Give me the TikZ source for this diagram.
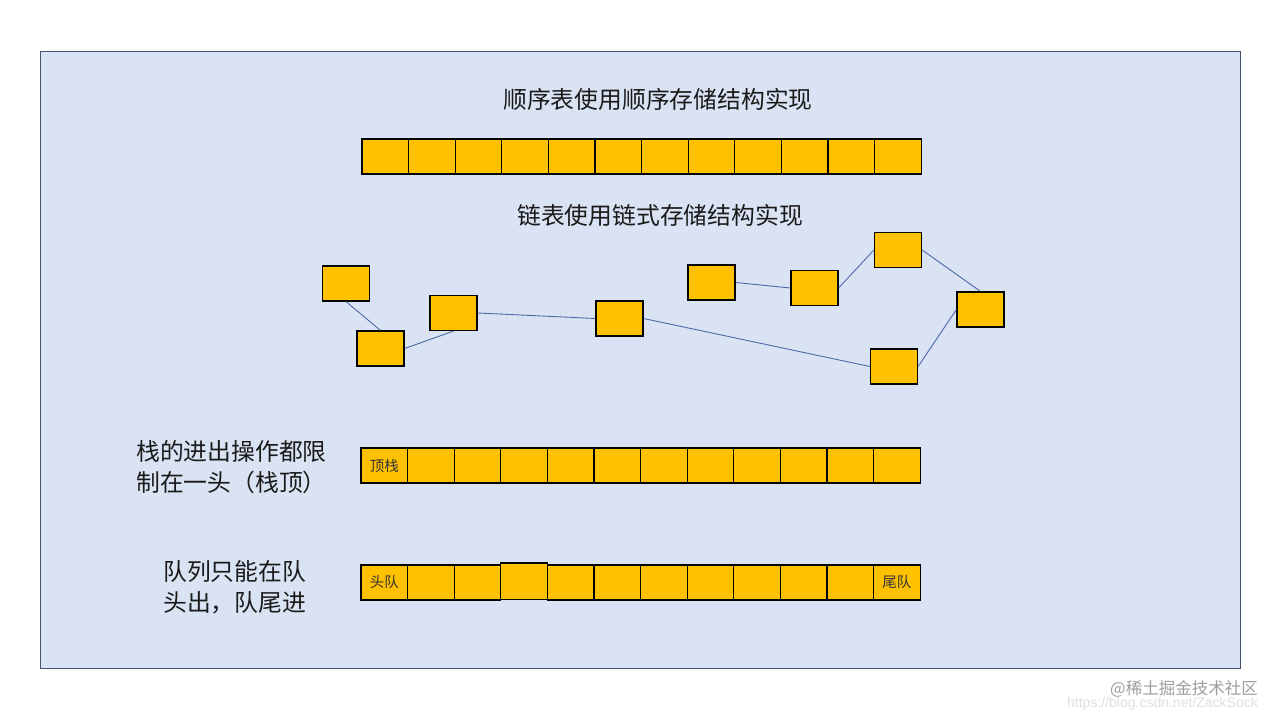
\documentclass[tikz,border=0pt]{standalone}
\usepackage{fontspec}
\setmainfont{Noto Sans CJK SC}
\newfontfamily\latinsans{Liberation Sans}
\definecolor{bgblue}{HTML}{DAE3F3}
\definecolor{frame}{HTML}{44546A}
\definecolor{boxfill}{HTML}{FFC000}
\definecolor{linkline}{HTML}{4A6AA8}
\definecolor{txt}{HTML}{1A1A1A}
\tikzset{
  cellbox/.style={draw=black, line width=1.1pt, fill=boxfill, minimum width=46.6pt, minimum height=35pt, inner sep=0pt, outer sep=0pt},
  listbox/.style={draw=black, line width=1.2pt, fill=boxfill, minimum width=47pt, minimum height=35pt, inner sep=0pt},
  linkedge/.style={draw=linkline, line width=0.9pt},
  bigtext/.style={font=\fontsize{23.8}{31}\selectfont, text=txt, inner sep=0pt},
  celltext/.style={font=\fontsize{14.5}{16}\selectfont, text=black!80},
}
\begin{document}
\begin{tikzpicture}[x=1pt,y=-1pt]
\useasboundingbox (0,0) rectangle (1280,720);
\fill[white] (0,0) rectangle (1280,720);
\draw[frame, fill=bgblue, line width=1pt] (40,51) rectangle (1240,668);

% titles
\node[bigtext] (t1) at (658,99) {顺序表使用顺序存储结构实现};
\node[bigtext] (t2) at (660,215) {链表使用链式存储结构实现};

% sequential list row
\foreach \i in {1,...,12} {
  \node[cellbox] (s\i) at ({362+46.6*(\i-0.5)},156.5) {};
}

% linked list
\node[listbox] (A) at (346,283.5) {};
\node[listbox] (B) at (380.5,348.5) {};
\node[listbox] (C) at (453.5,313) {};
\node[listbox] (D) at (619.5,318.5) {};
\node[listbox] (E) at (711.5,282.5) {};
\node[listbox] (F) at (814.5,288) {};
\node[listbox] (G) at (898,250) {};
\node[listbox] (H) at (980.5,309.5) {};
\node[listbox] (I) at (894,366.5) {};
\draw[linkedge] (A.south) -- (B.north);
\draw[linkedge] (B.east) -- (C.south);
\draw[linkedge] (C.east) -- (D.west);
\draw[linkedge] (D.east) -- (I.west);
\draw[linkedge] (I.east) -- (H.west);
\draw[linkedge] (H.north) -- (G.east);
\draw[linkedge] (G.west) -- (F.east);
\draw[linkedge] (F.west) -- (E.east);

% stack
\node[bigtext, anchor=west, align=left] (stacklbl) at (136,467) {栈的进出操作都限\\制在一头（栈顶）};
\foreach \i in {1,...,12} {
  \node[cellbox] (k\i) at ({361+46.6*(\i-0.5)},465.5) {};
}
\node[celltext] (ktop) at (k1) {顶栈};

% queue
\node[bigtext, anchor=west, align=left] (queuelbl) at (163,587) {队列只能在队\\头出，队尾进};
\foreach \i in {1,2,3,5,6,7,8,9,10,11,12} {
  \node[cellbox] (q\i) at ({361+46.6*(\i-0.5)},582.5) {};
}
\node[cellbox, minimum height=36.5pt] (q4) at ({361+46.6*3.5},581.25) {};
\node[celltext] (qhead) at (q1) {头队};
\node[celltext] (qtail) at (q12) {尾队};

% watermark
\node[font=\latinsans\fontsize{14}{15}\selectfont, text=black!12, anchor=east, inner sep=0pt] (url) at (1258,704) {https://blog.csdn.net/ZackSock};
\node[font=\fontsize{16.5}{18}\selectfont, text=black!38, anchor=east, inner sep=0pt] (wm) at (1258,689) {@稀土掘金技术社区};
\end{tikzpicture}
\end{document}
